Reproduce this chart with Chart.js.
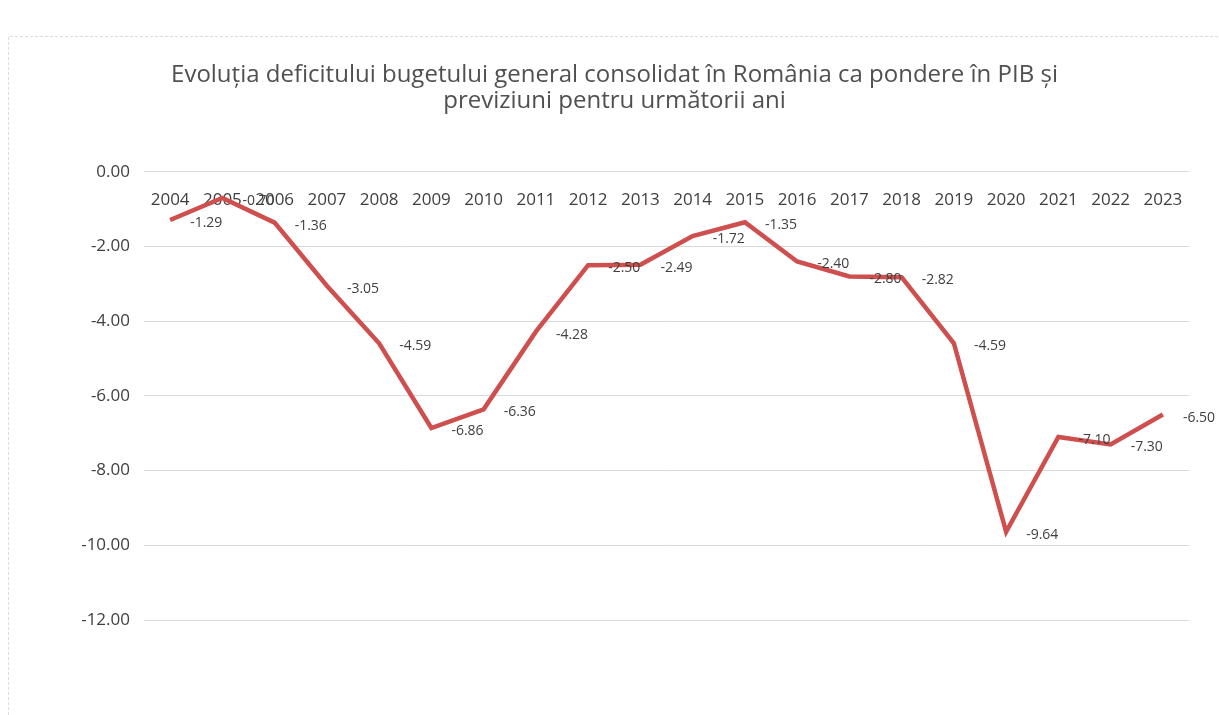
<!DOCTYPE html>
<html>
<head>
<meta charset="utf-8">
<script src="https://cdn.jsdelivr.net/npm/chart.js@4.4.1/dist/chart.umd.min.js"></script>
<style>
  html, body { margin: 0; padding: 0; background: #ffffff; }
  #wrap { width: 1219px; height: 715px; }
</style>
</head>
<body>
<div id="wrap"><canvas id="c" width="1219" height="715"></canvas></div>
<script>
const years = ['2004','2005','2006','2007','2008','2009','2010','2011','2012','2013',
               '2014','2015','2016','2017','2018','2019','2020','2021','2022','2023'];
const deficit = [-1.29, -0.70, -1.36, -3.05, -4.59, -6.86, -6.36, -4.28, -2.50, -2.49,
                 -1.72, -1.35, -2.40, -2.80, -2.82, -4.59, -9.64, -7.10, -7.30, -6.50];
const yTicks = [0, -2, -4, -6, -8, -10, -12];
const titleLines = ['Evoluția deficitului bugetului general consolidat în România ca pondere în PIB și',
                    'previziuni pentru următorii ani'];

const FONT = "'Open Sans', 'Noto Sans', sans-serif";

const frame = {
  id: 'frame',
  beforeDraw(chart) {
    const ctx = chart.ctx;
    ctx.save();
    ctx.fillStyle = '#ffffff';
    ctx.fillRect(0, 0, chart.width, chart.height);
    ctx.strokeStyle = '#dcdcdc';
    ctx.lineWidth = 1;
    ctx.setLineDash([3, 2]);
    ctx.beginPath();
    ctx.moveTo(8.5, 715);
    ctx.lineTo(8.5, 36.5);
    ctx.lineTo(1219, 36.5);
    ctx.stroke();
    ctx.restore();
  }
};

const dataLabels = {
  id: 'dataLabels',
  afterDatasetsDraw(chart) {
    const ctx = chart.ctx;
    const meta = chart.getDatasetMeta(0);
    ctx.save();
    ctx.font = "14px " + FONT;
    ctx.fillStyle = '#404040';
    ctx.textAlign = 'left';
    ctx.textBaseline = 'middle';
    meta.data.forEach((pt, i) => {
      ctx.fillText(deficit[i].toFixed(2), pt.x + 20, pt.y + 3);
    });
    ctx.restore();
  }
};

new Chart(document.getElementById('c'), {
  type: 'line',
  data: {
    labels: years,
    datasets: [{
      data: deficit,
      borderColor: '#cf4e4e',
      borderWidth: 4.5,
      pointRadius: 0,
      tension: 0,
      fill: false
    }]
  },
  options: {
    responsive: false,
    animation: false,
    devicePixelRatio: 1,
    layout: { padding: { top: 62, right: 10, bottom: 95, left: 20 } },
    plugins: {
      legend: { display: false },
      tooltip: { enabled: false },
      title: {
        display: true,
        text: titleLines,
        color: '#505050',
        font: { family: FONT, size: 24, weight: 'normal', lineHeight: 1.1 },
        padding: { top: 0, bottom: 57 }
      }
    },
    scales: {
      x: {
        type: 'category',
        position: { y: 0 },
        offset: true,
        grid: { display: false, drawTicks: false },
        border: { display: false },
        ticks: {
          color: '#404040',
          font: { family: FONT, size: 17 },
          padding: 18,
          maxRotation: 0,
          autoSkip: false
        }
      },
      y: {
        min: -12,
        max: 0,
        afterFit(s) { s.width = 124; },
        afterBuildTicks(s) { s.ticks = yTicks.map(v => ({ value: v })); },
        grid: { color: '#d9d9d9', lineWidth: 1, drawTicks: false },
        border: { display: false },
        ticks: {
          color: '#404040',
          font: { family: FONT, size: 17 },
          padding: 14,
          callback: v => Number(v).toFixed(2)
        }
      },
      yRight: {
        position: 'right',
        min: -12,
        max: 0,
        afterFit(s) { s.width = 20; },
        grid: { display: false, drawTicks: false },
        border: { display: false },
        ticks: { display: false }
      }
    }
  },
  plugins: [frame, dataLabels]
});
</script>
</body>
</html>
